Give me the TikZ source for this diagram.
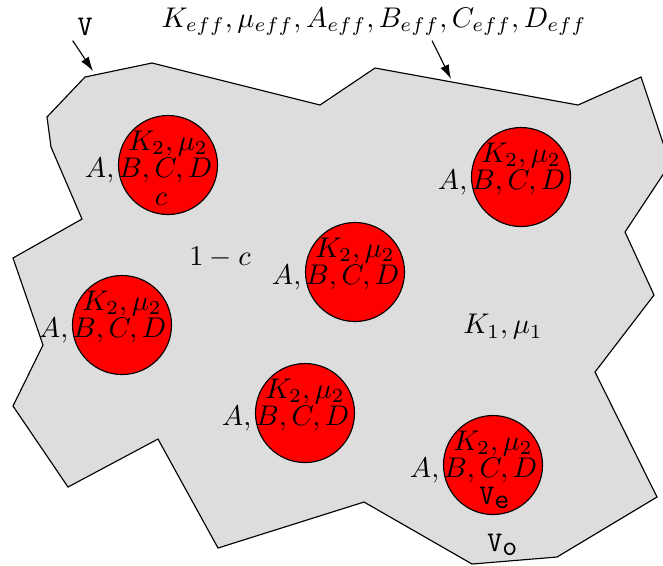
\documentclass[tikz,border=0pt]{standalone}
\usepackage{xcolor}
\usepackage{tikz}
\usetikzlibrary{positioning, arrows.meta}
\definecolor{matgray}{RGB}{221,221,221}
\definecolor{inclred}{RGB}{255,0,0}

\begin{document}
\begin{tikzpicture}[
  x=0.3515pt, y=-0.3515pt,
  incl/.style={circle, draw, fill=inclred, minimum size=34.8pt, inner sep=0pt},
  lab/.style={inner sep=1.5pt},
  ptr/.style={-{Latex[length=5pt, width=3.2pt]}}
]
\useasboundingbox (0,0) rectangle (663,565);
\clip (0,0) rectangle (663,565);

% matrix region V
\draw[fill=matgray] (85,77) -- (152,63) -- (320,105) -- (375,68) -- (578,105) -- (641,77)
  -- (670,164) -- (625,232) -- (654,295) -- (595,372) -- (657,497) -- (557,557)
  -- (472,564) -- (364,502) -- (218,548) -- (158,439) -- (68,487) -- (13,406)
  -- (43,345) -- (13,258) -- (82,219) -- (51,147) -- (47,117) -- cycle;

% inclusions
\foreach \n/\x/\y in {1/168/165, 2/521/177, 3/355/272, 4/122/325, 5/305/413, 6/493/465} {
  \node[incl] (inc\n) at (\x,\y) {};
  \node[inner sep=0pt] (kmu\n) at ([yshift=7.7pt]inc\n.center) {$K_2,\mu_2$};
  \node[inner sep=0pt, anchor=east] (abcd\n) at ([xshift=15.8pt, yshift=-2.1pt]inc\n.center) {$A,B,C,D$};
}

\node (conc) at (161,199) {$c$};
\node (ve) at (495,498) {\texttt{V}$_{\texttt{e}}$};
\node (vo) at (503,545) {\texttt{V}$_{\texttt{o}}$};
\node (mconc) at (220,257) {$1-c$};
\node (kmu) at (503,327) {$K_1,\mu_1$};

% labels on top
\node[lab] (vlab) at (85,27) {\texttt{V}};
\node[lab] (efflab) at (374,22) {$K_{eff},\mu_{eff},A_{eff},B_{eff},C_{eff},D_{eff}$};
\coordinate (vhead) at (93,71);
\coordinate (effhead) at (451,79);

\draw[ptr] (vlab.south west) -- (vhead);
\draw[ptr] ([xshift=20.4pt]efflab.south) -- (effhead);
\end{tikzpicture}
\end{document}
